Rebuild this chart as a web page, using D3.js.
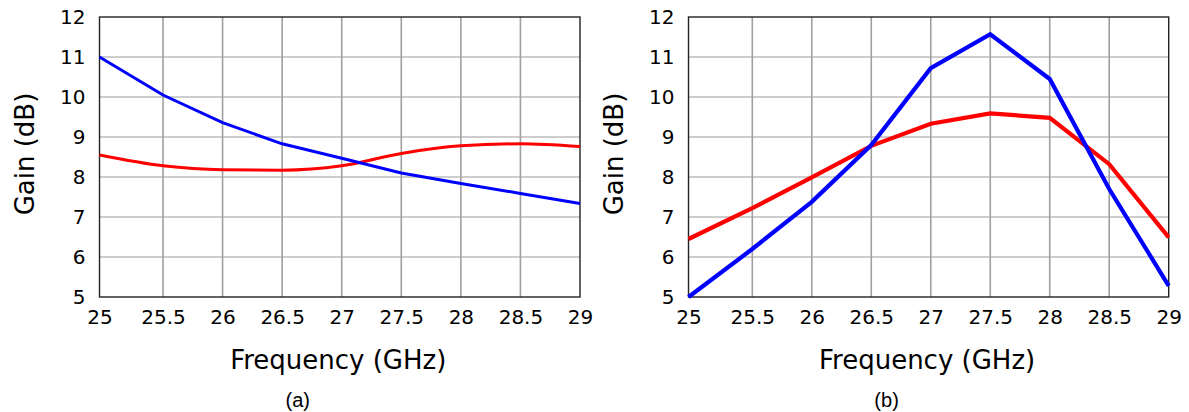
<!DOCTYPE html>
<html><head><meta charset="utf-8">
<script src="https://cdn.jsdelivr.net/npm/d3@7"></script>
<style>body{margin:0;background:#fff}svg{display:block}text{font-family:"DejaVu Sans",sans-serif;fill:#000}</style>
</head><body><svg id="c" width="1189" height="412"></svg>
<script>
const freq = [25, 25.5, 26, 26.5, 27, 27.5, 28, 28.5, 29];
const xTicks = [25, 25.5, 26, 26.5, 27, 27.5, 28, 28.5, 29];
const yTicks = [5, 6, 7, 8, 9, 10, 11, 12];
const aBlue = [11.0, 10.05, 9.36, 8.83, 8.47, 8.1, 7.84, 7.59, 7.34];
const aRed  = [8.55, 8.28, 8.18, 8.17, 8.28, 8.59, 8.78, 8.83, 8.76];
const bBlue = [5.0, 6.2, 7.38, 8.8, 10.72, 11.57, 10.45, 7.7, 5.28];
const bRed  = [6.45, 7.22, 7.99, 8.78, 9.33, 9.59, 9.48, 8.32, 6.49];
const panels = [
  {x0: 99.5, x1: 163, x2: 580, blue: aBlue, red: aRed, redCurve: d3.curveMonotoneX, blueCurve: d3.curveLinear, lw: 3, cap: "(a)"},
  {x0: 688.5, x1: 752.3, x2: 1168.7, blue: bBlue, red: bRed, redCurve: d3.curveLinear, blueCurve: d3.curveLinear, lw: 4.2, cap: "(b)"}
];
const svg = d3.select("#c");
const yTop = 17, yBot = 297;
panels.forEach(p => {
  const x = d3.scaleLinear().domain([25, 25.5, 29]).range([p.x0, p.x1, p.x2]);
  const y = d3.scaleLinear().domain([5, 12]).range([yBot, yTop]);
  const g = svg.append("g");
  g.append("g").selectAll("line").data(yTicks.slice(1, -1)).join("line")
    .attr("x1", p.x0).attr("x2", p.x2).attr("y1", d => y(d)).attr("y2", d => y(d))
    .attr("stroke", "#bdbdbd").attr("stroke-width", 1.3);
  g.append("g").selectAll("line").data(xTicks.slice(1, -1)).join("line")
    .attr("x1", d => x(d)).attr("x2", d => x(d)).attr("y1", yTop).attr("y2", yBot)
    .attr("stroke", "#a0a0a0").attr("stroke-width", 1.6);
  g.append("rect").attr("x", p.x0).attr("y", yTop).attr("width", p.x2 - p.x0).attr("height", yBot - yTop)
    .attr("fill", "none").attr("stroke", "#222").attr("stroke-width", 1.4);
  const ax = g.append("g").attr("transform", `translate(0,${yBot})`)
    .call(d3.axisBottom(x).tickValues(xTicks).tickSize(0).tickPadding(13).tickFormat(d3.format("")));
  ax.select(".domain").remove();
  ax.selectAll("text").attr("font-size", 20).attr("font-family", '"DejaVu Sans",sans-serif').attr("fill", "#000");
  const ay = g.append("g").attr("transform", `translate(${p.x0},0)`)
    .call(d3.axisLeft(y).tickValues(yTicks).tickSize(0).tickPadding(14).tickFormat(d3.format("d")));
  ay.select(".domain").remove();
  ay.selectAll("text").attr("font-size", 20).attr("font-family", '"DejaVu Sans",sans-serif').attr("fill", "#000");
  const line = (arr, c) => d3.line().x((d, i) => x(freq[i])).y(d => y(d)).curve(c)(arr);
  g.append("path").attr("d", line(p.red, p.redCurve)).attr("fill", "none").attr("stroke", "#ff0000").attr("stroke-width", p.lw);
  g.append("path").attr("d", line(p.blue, p.blueCurve)).attr("fill", "none").attr("stroke", "#0000ff").attr("stroke-width", p.lw);
  const cx = (p.x0 + p.x2) / 2;
  g.append("text").attr("x", cx - 1.5).attr("y", 369).attr("text-anchor", "middle").attr("font-size", 26).text("Frequency (GHz)");
  g.append("text").attr("transform", `translate(${p.x0 - 65.5},154) rotate(-90)`)
    .attr("text-anchor", "middle").attr("font-size", 26).text("Gain (dB)");
  g.append("text").attr("x", cx - 42).attr("y", 407).attr("text-anchor", "middle").attr("font-size", 20)
    .style("font-family", '"Liberation Sans",Arial,sans-serif').text(p.cap);
});
</script></body></html>
